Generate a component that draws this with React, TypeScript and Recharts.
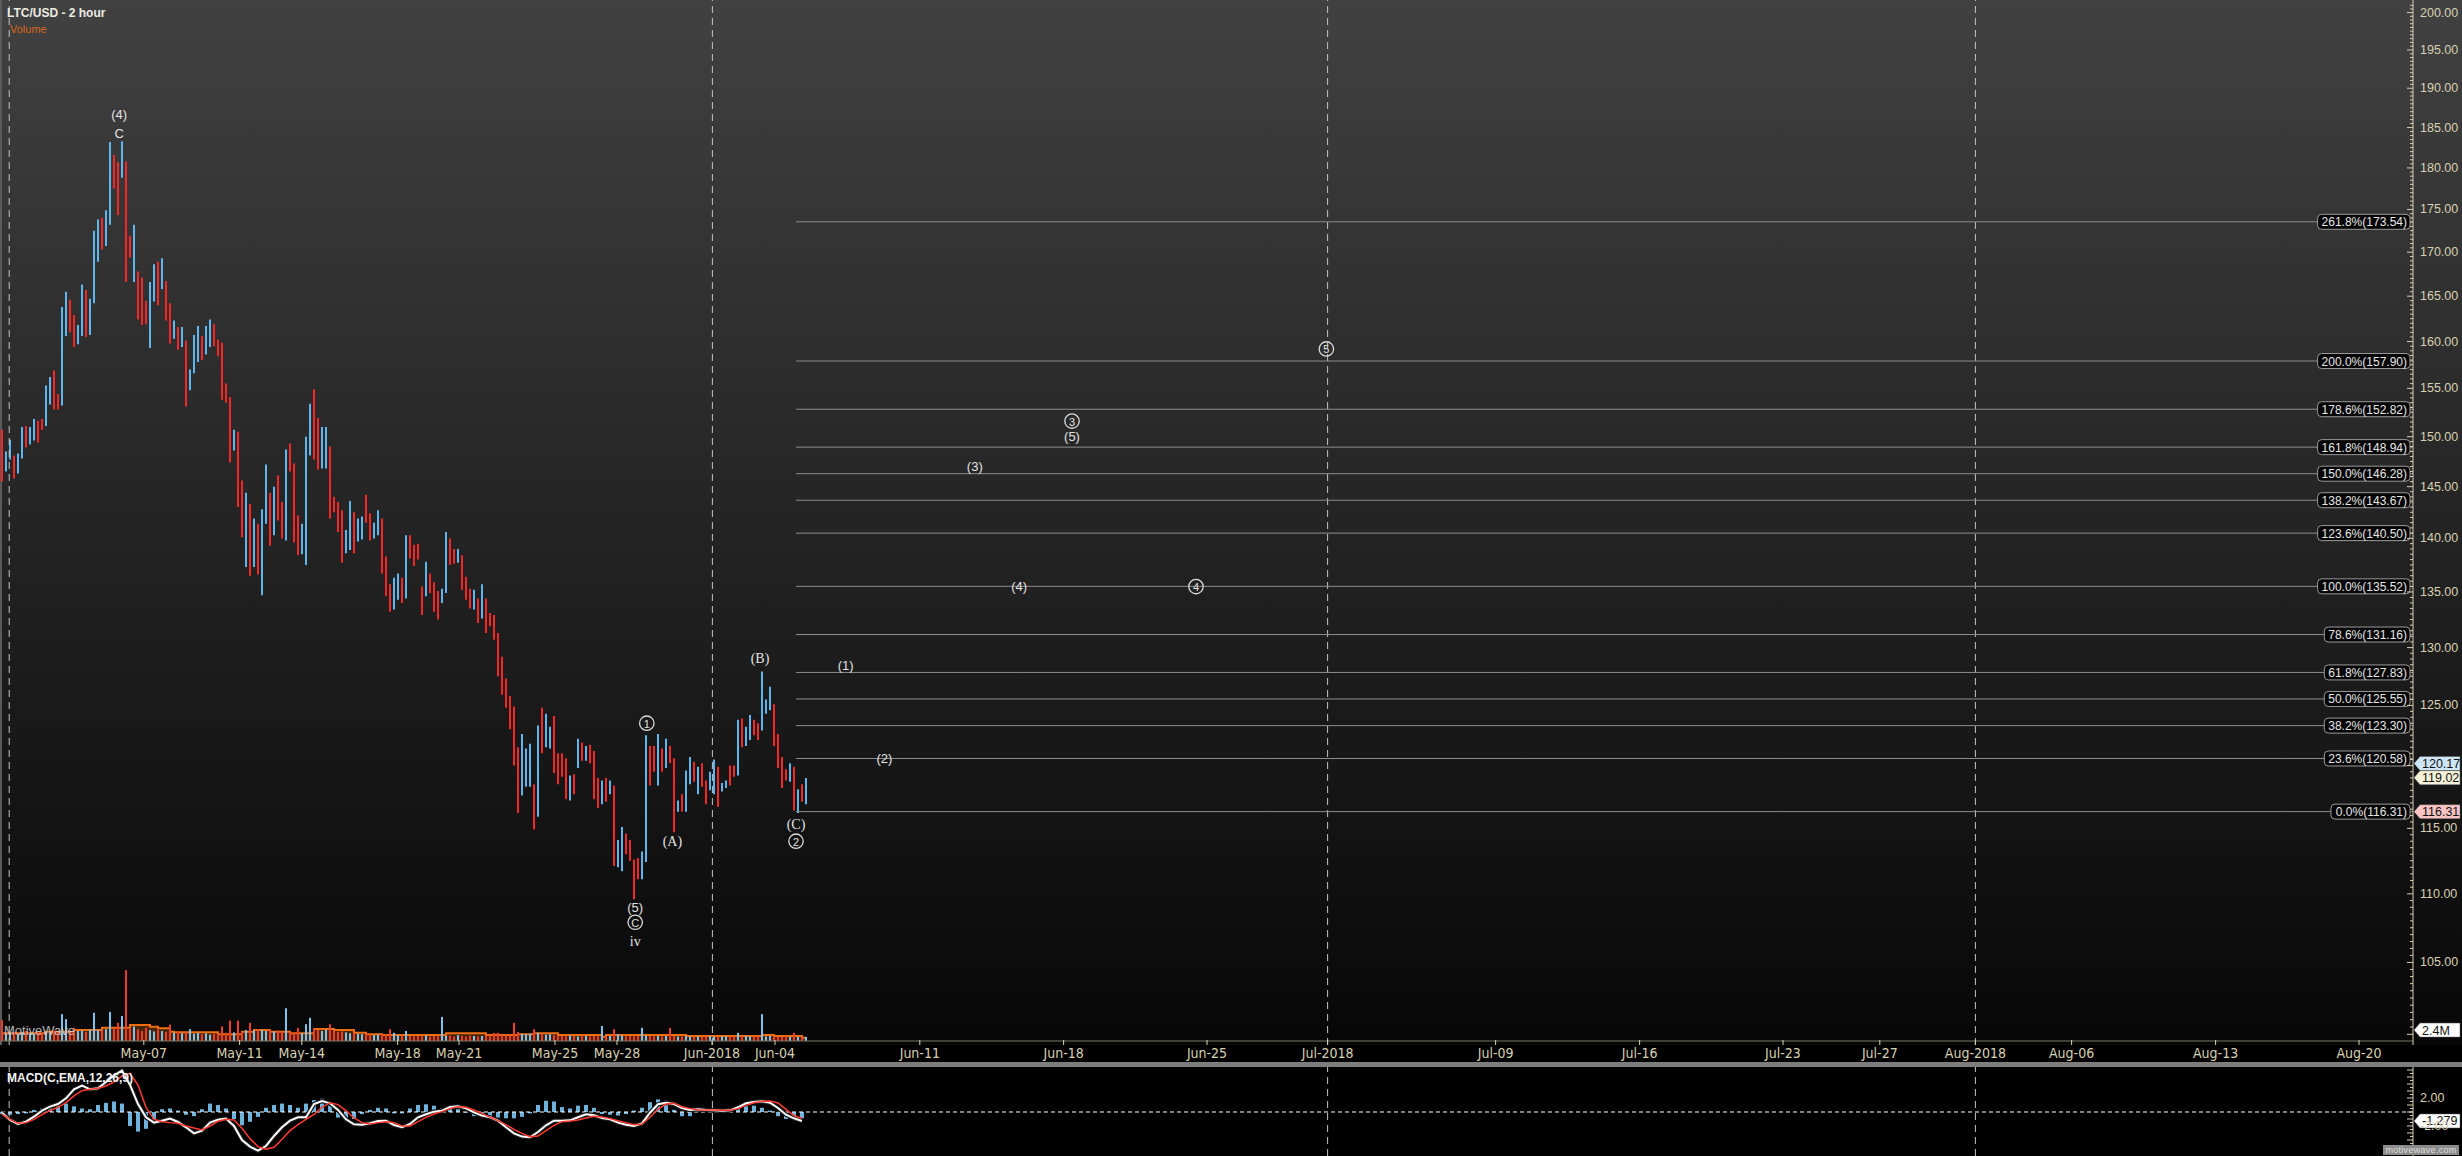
import React from 'react'
import { ComposedChart, Bar, Line, Area, XAxis, YAxis, ReferenceLine, ReferenceDot } from 'recharts'

// 2-hour LTC/USD bars (pairs of bars merged)
const barHigh = [
  150.7, 148.5, 149.7, 148.1, 148.3, 151.0, 151.1, 151.0, 151.8, 151.6,
  151.8, 155.3, 156.2, 156.9, 154.4, 163.8, 165.5, 164.6, 162.9, 161.8,
  166.3, 165.7, 164.7, 172.5, 173.8, 174.0, 174.9, 183.2, 181.6, 180.7,
  183.3, 180.8, 171.9, 173.2, 167.8, 167.1, 164.5, 166.6, 168.6, 168.9,
  169.3, 166.7, 164.2, 162.3, 161.6, 161.6, 160.1, 157.0, 160.7, 161.7,
  160.6, 161.7, 162.4, 161.9, 160.2, 159.9, 155.5, 154.1, 150.7, 150.5,
  145.6, 144.4, 143.3, 141.9, 141.4, 142.8, 147.2, 144.4, 145.0, 146.1,
  143.5, 148.7, 149.3, 147.3, 142.2, 141.4, 150.0, 153.4, 154.9, 151.9,
  151.0, 151.0, 149.0, 144.0, 143.5, 142.7, 140.8, 143.6, 142.5, 141.9,
  142.1, 144.2, 142.4, 141.5, 142.7, 141.9, 138.3, 135.7, 136.3, 136.7,
  136.3, 140.3, 140.3, 139.4, 139.5,
  135.5, 137.8, 136.7, 135.9, 135.1, 135.3, 140.6, 140.0, 139.0, 139.0,
  138.4, 136.4, 135.3, 135.2, 134.4, 135.7, 134.4, 133.1, 132.9, 131.3,
  129.2, 127.3, 125.8, 124.9, 121.5, 122.6, 121.4, 121.8, 118.5, 123.3,
  124.8, 124.3, 123.2, 124.1, 121.0, 121.0, 120.6, 119.2, 119.3, 122.2,
  121.9, 121.6, 121.7, 121.2, 119.0, 118.8, 119.0, 118.8, 118.4, 114.1,
  115.1, 114.6, 114.1, 112.6, 112.7, 113.2, 122.5, 121.6, 121.6, 122.6,
  121.4, 122.2, 121.6, 120.6, 117.2, 117.7, 119.6, 120.7, 120.3, 119.9,
  120.2, 118.8, 119.5, 120.5, 119.9, 118.6, 118.8, 120.0, 120.0, 123.8,
  123.9, 123.2, 124.2, 123.8, 123.5, 127.9, 125.5, 126.6, 125.1, 122.6,
  120.7, 119.7, 120.2, 119.9, 118.1, 118.5, 119.0,
]
const barLow = [
  145.5, 146.5, 147.7, 145.8, 146.3, 147.8, 148.9, 149.2, 149.6, 149.4,
  150.7, 151.1, 153.3, 152.8, 152.8, 153.2, 160.6, 161.0, 159.4, 159.7,
  160.6, 160.5, 160.7, 164.2, 168.9, 170.3, 170.7, 173.2, 177.5, 174.3,
  178.8, 166.6, 169.4, 166.6, 162.4, 161.8, 161.9, 159.3, 164.4, 164.0,
  165.8, 162.3, 159.8, 160.3, 159.1, 159.4, 153.1, 154.8, 156.6, 157.8,
  158.0, 158.6, 159.4, 159.5, 158.4, 153.8, 153.5, 147.4, 148.6, 143.0,
  140.1, 137.3, 136.5, 137.3, 136.6, 134.7, 141.4, 139.3, 140.3, 141.7,
  140.0, 139.8, 146.5, 139.6, 138.4, 138.5, 137.5, 148.1, 147.7, 146.7,
  146.8, 146.8, 141.9, 142.5, 140.6, 137.7, 138.6, 138.9, 138.6, 139.7,
  139.9, 141.5, 139.8, 140.0, 140.3, 136.7, 134.6, 133.2, 133.4, 134.3,
  134.0, 134.4, 138.1, 137.4, 138.0,
  132.9, 134.6, 134.9, 133.2, 132.5, 134.0, 134.9, 137.5, 137.6, 137.7,
  135.2, 134.3, 133.5, 133.4, 132.2, 132.6, 131.3, 131.9, 130.7, 127.5,
  125.9, 124.8, 123.0, 120.0, 116.2, 117.6, 118.3, 118.3, 114.9, 115.9,
  121.0, 121.5, 121.4, 119.4, 118.5, 119.1, 117.3, 117.2, 117.7, 119.8,
  120.4, 120.4, 120.2, 117.3, 116.6, 116.9, 117.1, 117.7, 112.1, 112.0,
  111.7, 113.0, 112.5, 109.6, 111.1, 111.1, 112.4, 118.4, 119.5, 118.4,
  119.5, 119.8, 120.2, 114.7, 116.3, 116.3, 116.3, 118.5, 118.7, 117.7,
  118.3, 116.9, 118.0, 117.7, 116.7, 117.9, 118.2, 118.4, 119.1, 119.2,
  121.5, 121.6, 122.1, 122.5, 122.1, 122.9, 124.3, 124.6, 121.6, 119.8,
  118.2, 118.8, 118.7, 116.4, 116.2, 117.1, 116.9,
]
// 1 = up bar (blue), 0 = down bar (red)
const barUp = [
  0, 1, 1, 0, 1, 1, 0, 1, 1, 0,
  0, 1, 1, 0, 0, 1, 1, 0, 0, 1,
  1, 0, 1, 1, 1, 0, 1, 1, 0, 0,
  1, 0, 0, 1, 0, 0, 0, 1, 1, 0,
  1, 0, 0, 1, 0, 1, 0, 1, 1, 1,
  0, 1, 1, 0, 0, 0, 0, 0, 1, 0,
  0, 1, 0, 1, 0, 1, 1, 0, 1, 0,
  0, 1, 0, 0, 0, 1, 1, 1, 0, 0,
  1, 1, 0, 0, 0, 0, 1, 1, 0, 1,
  1, 0, 0, 1, 1, 0, 0, 0, 1, 1,
  0, 1, 0, 0, 0,
  0, 1, 0, 0, 0, 1, 1, 0, 0, 1,
  0, 0, 0, 1, 0, 1, 0, 0, 0, 0,
  0, 0, 0, 0, 0, 1, 1, 1, 0, 1,
  0, 1, 1, 0, 0, 0, 0, 1, 0, 1,
  0, 1, 0, 0, 0, 1, 0, 1, 0, 1,
  1, 0, 0, 0, 0, 1, 1, 0, 0, 1,
  0, 1, 0, 0, 1, 0, 1, 1, 0, 1,
  0, 0, 1, 1, 0, 1, 1, 0, 0, 1,
  0, 1, 1, 0, 0, 1, 1, 1, 0, 0,
  0, 0, 1, 0, 1, 0, 1,
]
// volume in millions
const volume = [
  4.6, 1.6, 1.8, 2.0, 1.5, 1.9, 2.2, 1.7, 1.6, 2.0,
  1.8, 2.1, 1.9, 2.3, 2.0, 5.9, 4.8, 2.2, 2.9, 2.2,
  2.3, 2.0, 2.5, 6.2, 2.4, 2.3, 2.6, 6.4, 2.8, 4.0,
  5.5, 15.6, 2.8, 3.2, 2.6, 2.2, 2.9, 2.4, 2.1, 2.5,
  2.2, 2.0, 3.6, 1.8, 2.1, 1.7, 1.9, 2.6, 1.6, 1.8,
  1.5, 1.7, 1.4, 1.6, 1.5, 3.2, 1.8, 4.5, 1.9, 4.5,
  2.0, 2.4, 4.0, 2.3, 2.6, 2.4, 2.2, 2.5, 2.1, 2.3,
  2.0, 7.2, 1.9, 1.8, 2.9, 1.7, 3.7, 5.1, 2.8, 2.4,
  2.2, 2.5, 3.7, 2.3, 2.0, 2.1, 1.9, 1.7, 1.8, 1.6,
  1.5, 1.6, 1.4, 1.3, 1.4, 1.5, 1.4, 2.6, 1.8, 1.3,
  1.2, 2.2, 1.1, 1.0, 1.1, 1.0, 1.2, 1.0, 1.1, 1.0,
  5.3, 1.1, 1.2, 1.0, 1.3, 1.1, 1.0, 1.2, 1.1, 1.0,
  1.1, 1.2, 1.2, 1.8, 1.8, 1.3, 1.2, 1.4, 4.0, 2.0,
  1.6, 1.5, 1.6, 2.6, 1.8, 1.6, 1.4, 1.5, 1.3, 1.2,
  1.1, 1.0, 1.2, 1.1, 1.0, 1.2, 1.1, 1.0, 1.1, 1.0,
  3.3, 1.0, 1.1, 2.6, 1.5, 1.2, 1.0, 1.1, 1.0, 1.1,
  2.9, 1.2, 1.1, 1.0, 1.1, 1.0, 1.1, 2.9, 1.1, 1.0,
  1.0, 1.1, 1.0, 0.9, 1.0, 0.9, 1.0, 1.1, 1.0, 0.9,
  1.0, 1.0, 1.0, 1.0, 1.8, 1.0, 1.1, 1.0, 1.0, 1.1,
  5.9, 1.0, 1.1, 1.0, 1.0, 0.9, 1.0, 0.9, 1.8, 0.9,
  0.8, 0.9,
]
// volume average steps: [bar index, value]
const volAvg: [number, number][] = [
  [0, 1.69], [11, 2.05], [18, 2.42], [25, 2.93], [32, 3.52], [37, 3.15], [39, 2.79],
  [42, 2.05], [43, 1.91], [54, 1.47], [60, 2.05], [63, 2.42], [67, 2.05], [72, 1.69],
  [78, 2.64], [83, 2.42], [88, 1.83], [91, 1.47], [95, 1.32], [111, 1.69], [121, 1.32],
  [129, 1.47], [133, 1.69], [139, 1.32], [150, 0.95], [151, 1.32], [171, 1.1], [190, 1.32],
  [193, 1.1], [200, 0.73], [201, 0.73],
]

// MACD(12,26,9), one value every 2 bars
const macdLine = [
  -0.1, -1.14, -1.71, -1.38, -0.67, 0.19, 0.76, 1.14, 1.95, 3.24,
  3.76, 3.24, 3.38, 4.29, 5.24, 5.9, 3.86, 1.14, -0.76, -1.52,
  -1.24, -0.95, -1.43, -2.19, -3.05, -2.67, -1.52, -1.1, -0.95, -2.0,
  -4.0, -4.95, -5.52, -4.86, -3.43, -2.19, -1.24, -0.76, -0.76, 1.14,
  1.57, 1.24, 0.29, -1.05, -1.76, -1.81, -1.62, -1.29, -1.24, -1.86,
  -2.19, -1.71, -0.76, -0.33, 0.05, 0.19, 0.71, 0.81, 0.52, -0.05,
  -0.52, -0.76, -1.24, -2.19, -3.05, -3.52, -3.62, -2.86, -1.9, -1.24,
  -1.24, -1.19, -0.76, -0.33, -0.48, -0.86, -1.05, -1.52, -1.81, -2.0,
  -1.62, -0.1, 1.1, 1.33, 1.14, 0.57, 0.29, 0.38, 0.29, 0.24,
  0.19, 0.24, 0.67, 1.24, 1.43, 1.52, 1.33, 0.57, -0.38, -0.9,
  -1.28,
]
const signalLine = [
  -0.3, -1.05, -1.62, -1.52, -1.05, -0.38, 0.19, 0.67, 1.33, 2.29,
  3.05, 3.24, 3.38, 3.71, 4.29, 5.14, 5.52, 3.86, 0.67, -1.05,
  -1.38, -1.52, -1.62, -2.0, -2.29, -2.57, -2.0, -1.33, -1.05, -1.14,
  -2.33, -3.81, -4.95, -5.33, -5.05, -3.9, -2.67, -1.81, -1.05, -0.33,
  0.67, 1.33, 1.05, 0.19, -0.86, -1.52, -1.71, -1.52, -1.38, -1.52,
  -2.0, -2.0, -1.38, -0.76, -0.29, 0.05, 0.48, 0.76, 0.67, 0.29,
  -0.19, -0.76, -1.24, -1.81, -2.48, -3.05, -3.52, -3.43, -2.67, -1.9,
  -1.38, -1.29, -1.14, -0.86, -0.62, -0.71, -0.95, -1.24, -1.52, -1.81,
  -1.71, -0.76, 0.38, 1.14, 1.24, 0.76, 0.48, 0.33, 0.29, 0.29,
  0.24, 0.24, 0.48, 0.95, 1.33, 1.52, 1.57, 1.29, 0.38, -0.52,
  -0.9,
]
const macdHist = [
  -0.3, -0.4, -0.3, -0.2, 0.3, 0.5, 0.8, 1.0, 1.2, 0.8,
  0.5, 0.4, 1.0, 1.3, 1.5, 1.2, -2.0, -2.8, -2.4, -1.0,
  0.4, 0.5, 0.2, -0.4, -0.6, 0.4, 1.2, 1.0, 0.5, -1.0,
  -1.9, -1.4, -0.7, 0.6, 1.0, 1.2, 1.0, 0.6, 1.2, 1.7,
  1.9, 0.9, -0.8, -1.2, -1.0, -0.3, 0.3, 0.6, 0.5, -0.2,
  -0.2, 0.5, 1.0, 1.1, 0.9, 0.5, 0.5, 0.4, -0.1, -0.6,
  -0.7, -0.6, -0.8, -0.9, -0.9, -0.7, -0.2, 1.0, 1.6, 1.5,
  0.7, 0.5, 0.9, 1.0, 0.6, -0.3, -0.4, -0.5, -0.3, 0.2,
  0.6, 1.4, 1.8, 1.6, 0.3, -0.6, -0.6, 0.1, 0.1, 0.0,
  -0.1, 0.1, 0.4, 0.8, 0.9, 0.6, 0.2, -0.6, -1.0, -1.1,
  -0.9,
]

// time axis, in bar slots
const xTickLabels = ['May-07', 'May-11', 'May-14', 'May-18', 'May-21', 'May-25', 'May-28', 'Jun-2018', 'Jun-04',
  'Jun-11', 'Jun-18', 'Jun-25', 'Jul-2018', 'Jul-09', 'Jul-16', 'Jul-23', 'Jul-27', 'Aug-2018', 'Aug-06', 'Aug-13', 'Aug-20']
const xTickPos = [35.95, 59.9, 75.45, 99.4, 114.75, 138.75, 154.25, 178, 193.75,
  229.95, 265.9, 301.75, 331.9, 373.9, 409.9, 445.75, 469.95, 493.85, 517.9, 553.9, 589.75]
const monthLines = [2.3, 178.1, 331.9, 493.85]

const priceTickLabels = [200, 195, 190, 185, 180, 175, 170, 165, 160, 155, 150, 145, 140, 135, 130, 125, 115, 110, 105]

// fibonacci projection
const fibPct = ['261.8%', '200.0%', '178.6%', '161.8%', '150.0%', '138.2%', '123.6%', '100.0%', '78.6%', '61.8%', '50.0%', '38.2%', '23.6%', '0.0%']
const fibVal = [173.54, 157.9, 152.82, 148.94, 146.28, 143.67, 140.5, 135.52, 131.16, 127.83, 125.55, 123.3, 120.58, 116.31]
const fibStart = 199

// wave counts ('c' = circled)
const waveText = ['(4)', 'C', '1', '(A)', '(5)', 'C', 'iv', '(B)', '(C)', '2', '(1)', '(2)', '(3)', '(4)', '3', '(5)', '4', '5']
const waveX = [29.8, 29.8, 161.7, 168.1, 158.8, 158.8, 158.8, 190, 199, 199, 211.4, 221.1, 243.7, 254.8, 268.0, 268.0, 299.0, 331.6]
const wavePrice = [186.6, 184.3, 123.5, 114.0, 109.0, 107.9, 106.5, 129.0, 115.3, 114.0, 128.4, 120.6, 147.0, 135.5, 151.6, 150.0, 135.5, 159.2]
const waveFace = ['s', 's', 'c', 'r', 's', 'c', 'r', 'r', 'r', 'c', 's', 's', 's', 's', 'c', 's', 'c', 'c']

const markerVal = [120.17, 119.02, 116.31]
const markerBg = ['#cde6f6', '#f5f1d8', '#f7c3c3']

const X_MAX = 603.25
const P_MIN = 99.28
const P_MAX = 201.72
const PLOT_BOTTOM = 1045
const UP = '#5db6ee'
const DOWN = '#f42626'
const AXIS = '#d7d1b2'
const SANS = "'Liberation Sans', Arial, sans-serif"
const NARROW = "'Liberation Sans Narrow', 'DejaVu Sans Condensed', 'Liberation Sans', sans-serif"
const SERIF = "'Liberation Serif', 'DejaVu Serif', serif"

const avgMap = new Map(volAvg)
const priceData = barHigh.map((h, i) => ({
  x: i + 0.5,
  range: [barLow[i], h],
  up: barUp[i] === 1,
  vol: volume[i],
  avg: avgMap.has(i) ? avgMap.get(i) : null,
}))
const macdData = macdLine.map((m, k) => ({ x: k * 2 + 0.5, m, s: signalLine[k], h: macdHist[k] }))

const priceTicks: number[] = []
for (let v = 100; v <= 201; v += 0.5) priceTicks.push(v)
const macdTicks: number[] = []
for (let v = -6; v <= 6; v += 0.5) macdTicks.push(v)

const PriceBar = (p: any) => {
  const cx = p.x + p.width / 2
  return <line x1={cx} x2={cx} y1={p.y} y2={p.y + p.height} stroke={p.payload.up ? UP : DOWN} strokeWidth={2} />
}
const VolBar = (p: any) => {
  const h = Math.abs(p.height)
  return <rect x={p.x + p.width / 2 - 1} y={Math.min(p.y, p.y + p.height)} width={2} height={h} fill={p.payload.up ? '#7ec3ee' : '#f03a2a'} />
}

const TimeTick = (p: any) => {
  const label = xTickLabels[xTickPos.indexOf(p.payload.value)]
  return (
    <g>
      <line x1={p.x} x2={p.x} y1={PLOT_BOTTOM - 5} y2={PLOT_BOTTOM} stroke={AXIS} />
      <text x={p.x} y={PLOT_BOTTOM + 13} textAnchor="middle" fill={AXIS} fontSize={14} fontFamily={NARROW}>{label}</text>
    </g>
  )
}

const PriceTick = (p: any) => {
  const v = p.payload.value
  const major = v % 5 === 0
  return (
    <g>
      <line x1={p.x - (major ? 6 : 3)} x2={p.x} y1={p.y} y2={p.y} stroke={AXIS} />
      {priceTickLabels.includes(v) && (
        <text x={p.x + 7} y={p.y} dominantBaseline="central" fill={AXIS} fontSize={12.5} fontFamily={SANS}>{v.toFixed(2)}</text>
      )}
    </g>
  )
}

const MacdTick = (p: any) => {
  const v = p.payload.value
  const major = v % 1 === 0
  return (
    <g>
      <line x1={p.x - (major ? 6 : 3)} x2={p.x} y1={p.y} y2={p.y} stroke={AXIS} />
      {(v === 2 || v === -2) && (
        <text x={p.x + 7} y={p.y} dominantBaseline="central" fill={AXIS} fontSize={12.5} fontFamily={SANS}>{v.toFixed(2)}</text>
      )}
    </g>
  )
}

const charW = (c: string) => (c === '.' ? 3.34 : c === '%' ? 10.67 : c === '(' || c === ')' ? 4 : 6.67)

const FibLabel = ({ cx, cy, text }: any) => {
  const w = text.split('').reduce((a: number, c: string) => a + charW(c), 0) + 7
  return (
    <g>
      <rect x={cx - 3 - w} y={cy - 7.5} width={w} height={15} rx={4} fill="#050505" stroke="#9a9a9a" />
      <text x={cx - 6} y={cy + 0.5} textAnchor="end" dominantBaseline="central" fill="#e6e6e6" fontSize={12} fontFamily={SANS}>{text}</text>
    </g>
  )
}

const Marker = ({ cx, cy, text, bg }: any) => (
  <g>
    <path d={`M${cx + 1},${cy} L${cx + 7},${cy - 7} L${cx + 47},${cy - 7} L${cx + 47},${cy + 7} L${cx + 7},${cy + 7} Z`} fill={bg} stroke="#555" strokeWidth={0.5} />
    <text x={cx + 9} y={cy + 0.5} dominantBaseline="central" fill="#111" fontSize={12.5} fontFamily={SANS}>{text}</text>
  </g>
)

const WaveLabel = ({ cx, cy, text, face }: any) => {
  if (face === 'c') {
    return (
      <g>
        <circle cx={cx} cy={cy} r={7.2} fill="none" stroke="#dcdcdc" strokeWidth={1.3} />
        <text x={cx} y={cy + 0.5} textAnchor="middle" dominantBaseline="central" fill="#e2e2e2" fontSize={11} fontFamily={SANS}>{text}</text>
      </g>
    )
  }
  return (
    <text
      x={cx}
      y={cy}
      textAnchor="middle"
      dominantBaseline="central"
      fill="#e2e2e2"
      fontSize={face === 'r' ? 14 : 13}
      fontFamily={face === 'r' ? SERIF : SANS}
    >
      {text}
    </text>
  )
}

export default function App() {
  return (
    <div style={{ position: 'absolute', left: 0, top: 0, width: 2462, height: 1156, background: '#000', overflow: 'hidden', fontFamily: SANS }}>
      <div style={{ position: 'absolute', left: 0, top: 0, width: 2462, height: 1045, background: 'linear-gradient(#414141, #070707)' }} />
      <div style={{ position: 'absolute', left: 0, top: 0, width: 2, height: 1045, background: '#5a5a5a' }} />
      <div style={{ position: 'absolute', left: 0, top: 0 }}>
        <ComposedChart width={2462} height={1062} data={priceData} margin={{ top: 0, right: 0, bottom: 0, left: 0 }}>
          <XAxis
            xAxisId="x"
            dataKey="x"
            type="number"
            domain={[0, X_MAX]}
            allowDataOverflow
            ticks={xTickPos}
            interval={0}
            tick={<TimeTick />}
            tickLine={false}
            tickSize={0}
            tickMargin={0}
            axisLine={{ stroke: AXIS }}
            height={17}
          />
          <XAxis xAxisId="vx" dataKey="x" type="number" domain={[0, X_MAX]} allowDataOverflow hide />
          <YAxis
            yAxisId="p"
            orientation="right"
            scale="log"
            type="number"
            domain={[P_MIN, P_MAX]}
            allowDataOverflow
            ticks={priceTicks}
            interval={0}
            tick={<PriceTick />}
            tickLine={false}
            tickSize={0}
            tickMargin={0}
            axisLine={{ stroke: AXIS }}
            width={49}
          />
          <YAxis yAxisId="v" type="number" domain={[-0.88, 229]} allowDataOverflow hide />

          {monthLines.map((m) => (
            <ReferenceLine key={'m' + m} xAxisId="x" yAxisId="p" x={m} stroke="#c4c4c4" strokeDasharray="7 5" />
          ))}
          {fibVal.map((v) => (
            <ReferenceLine
              key={'f' + v}
              xAxisId="x"
              yAxisId="p"
              segment={[{ x: fibStart, y: v }, { x: X_MAX, y: v }]}
              stroke="#8e8e8e"
            />
          ))}
          <ReferenceLine xAxisId="vx" yAxisId="v" y={0} stroke="#77776a" />

          <Bar xAxisId="x" yAxisId="p" dataKey="range" barSize={2} shape={<PriceBar />} isAnimationActive={false} />
          <Bar xAxisId="vx" yAxisId="v" dataKey="vol" barSize={2} shape={<VolBar />} isAnimationActive={false} />
          <Area
            xAxisId="vx"
            yAxisId="v"
            dataKey="avg"
            type="stepAfter"
            connectNulls
            stroke="#f06e10"
            strokeWidth={2}
            fill="rgba(150,75,10,0.45)"
            fillOpacity={1}
            dot={false}
            activeDot={false}
            isAnimationActive={false}
          />

          {fibVal.map((v, k) => (
            <ReferenceDot
              key={'fl' + v}
              xAxisId="x"
              yAxisId="p"
              x={X_MAX}
              y={v}
              ifOverflow="visible"
              shape={(p: any) => <FibLabel cx={p.cx} cy={p.cy} text={`${fibPct[k]}(${v.toFixed(2)})`} />}
            />
          ))}
          {waveText.map((t, k) => (
            <ReferenceDot
              key={'w' + k}
              xAxisId="x"
              yAxisId="p"
              x={waveX[k]}
              y={wavePrice[k]}
              ifOverflow="visible"
              shape={(p: any) => <WaveLabel cx={p.cx} cy={p.cy} text={t} face={waveFace[k]} />}
            />
          ))}
          {markerVal.map((v, k) => (
            <ReferenceDot
              key={'mk' + v}
              xAxisId="x"
              yAxisId="p"
              x={X_MAX}
              y={v}
              ifOverflow="visible"
              shape={(p: any) => <Marker cx={p.cx} cy={p.cy} text={v.toFixed(2)} bg={markerBg[k]} />}
            />
          ))}
          <ReferenceDot
            xAxisId="vx"
            yAxisId="v"
            x={X_MAX}
            y={2.4}
            ifOverflow="visible"
            shape={(p: any) => <Marker cx={p.cx} cy={p.cy} text="2.4M" bg="#ffffff" />}
          />
        </ComposedChart>
      </div>

      <div style={{ position: 'absolute', left: 0, top: 1062, width: 2462, height: 5, background: '#7d7d7d' }} />

      <div style={{ position: 'absolute', left: 0, top: 1067 }}>
        <ComposedChart width={2462} height={89} data={macdData} margin={{ top: 0, right: 0, bottom: 0, left: 0 }}>
          <XAxis xAxisId="x" dataKey="x" type="number" domain={[0, X_MAX]} allowDataOverflow hide />
          <YAxis
            yAxisId="m"
            orientation="right"
            type="number"
            domain={[-6.29, 6.43]}
            allowDataOverflow
            ticks={macdTicks}
            interval={0}
            tick={<MacdTick />}
            tickLine={false}
            tickSize={0}
            tickMargin={0}
            axisLine={{ stroke: AXIS }}
            width={49}
          />
          {monthLines.map((m) => (
            <ReferenceLine key={'mm' + m} xAxisId="x" yAxisId="m" x={m} stroke="#c4c4c4" strokeDasharray="7 5" />
          ))}
          <Bar xAxisId="x" yAxisId="m" dataKey="h" barSize={4} fill="#6fb2dc" isAnimationActive={false} />
          <ReferenceLine xAxisId="x" yAxisId="m" y={0} stroke="#ffffff" strokeDasharray="4 3" />
          <Line xAxisId="x" yAxisId="m" dataKey="m" type="linear" stroke="#1a1a1a" strokeWidth={4.5} dot={false} activeDot={false} isAnimationActive={false} />
          <Line xAxisId="x" yAxisId="m" dataKey="m" type="linear" stroke="#ffffff" strokeWidth={2} dot={false} activeDot={false} isAnimationActive={false} />
          <Line xAxisId="x" yAxisId="m" dataKey="s" type="linear" stroke="#ff3a30" strokeWidth={1.5} dot={false} activeDot={false} isAnimationActive={false} />
          <ReferenceDot
            xAxisId="x"
            yAxisId="m"
            x={X_MAX}
            y={-1.279}
            ifOverflow="visible"
            shape={(p: any) => <Marker cx={p.cx} cy={p.cy} text="-1.279" bg="#ffffff" />}
          />
        </ComposedChart>
      </div>

      <div style={{ position: 'absolute', left: 7, top: 6, color: '#ecebe4', fontSize: 12, fontWeight: 'bold', lineHeight: '14px', whiteSpace: 'nowrap' }}>
        LTC/USD - 2 hour
      </div>
      <div style={{ position: 'absolute', left: 10, top: 23, color: '#d9671a', fontSize: 11, lineHeight: '12px' }}>Volume</div>
      <div style={{ position: 'absolute', left: 4, top: 1024, color: '#d2d2d2', fontSize: 13, lineHeight: '14px', opacity: 0.85 }}>MotiveWave</div>
      <div style={{ position: 'absolute', left: 7, top: 1071, color: '#f2f2f2', fontSize: 12, fontWeight: 'bold', lineHeight: '14px', whiteSpace: 'nowrap' }}>
        MACD(C,EMA,12,26,9)
      </div>
      <div style={{ position: 'absolute', left: 2383, top: 1145, width: 76, height: 10, background: '#8c8c8c', color: '#dedede', fontSize: 9, lineHeight: '10px', textAlign: 'center', letterSpacing: 0.3 }}>
        motivewave.com
      </div>
    </div>
  )
}
